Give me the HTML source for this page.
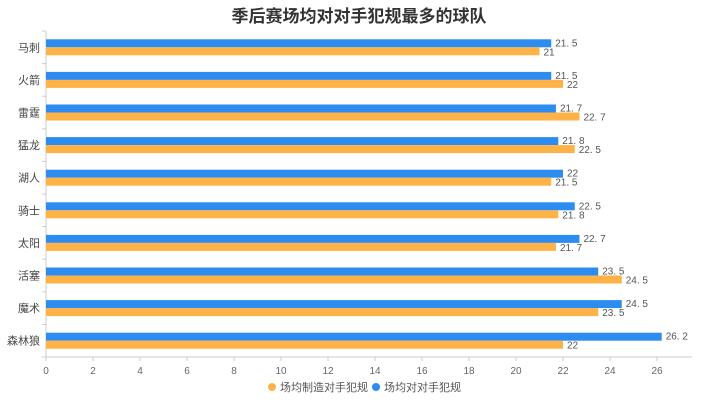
<!DOCTYPE html>
<html><head><meta charset="utf-8"><style>
body{margin:0;background:#fff;font-family:"Liberation Sans","Noto Sans CJK SC",sans-serif}
svg text{font-family:"Liberation Sans","Noto Sans CJK SC",sans-serif}
</style></head><body>
<svg id="chart" width="718" height="401">
<text x="359" y="22" text-anchor="middle" font-size="17" font-weight="bold" fill="#333">季后赛场均对对手犯规最多的球队</text>
<g id="plot"></g>
<g>
<circle cx="272" cy="387" r="4" fill="#ffb347"/>
<text x="280" y="391" font-size="11" fill="#555">场均制造对手犯规</text>
<circle cx="376" cy="387" r="4" fill="#2d8cf0"/>
<text x="384" y="391" font-size="11" fill="#555">场均对对手犯规</text>
</g>
</svg>
<script>
const categories=["马刺","火箭","雷霆","猛龙","湖人","骑士","太阳","活塞","魔术","森林狼"];
const committed=[21.5,21.5,21.7,21.8,22,22.5,22.7,23.5,24.5,26.2];
const made=[21,22,22.7,22.5,21.5,21.8,21.7,24.5,23.5,22];
const xTicks=[0,2,4,6,8,10,12,14,16,18,20,22,24,26];
const NS="http://www.w3.org/2000/svg";
const g=document.getElementById('plot');
const x0=46,ppu=23.5,plotTop=31,plotBottom=357,xEnd=692;
const band=(plotBottom-plotTop)/categories.length;
const X=v=>x0+v*ppu;
function mk(t,a){const e=document.createElementNS(NS,t);for(const k in a)e.setAttribute(k,a[k]);g.appendChild(e);return e;}
let ax=mk('line',{x1:x0,y1:plotBottom,x2:xEnd,y2:plotBottom,stroke:'#ccc'});


let ay=mk('line',{x1:x0,y1:plotTop,x2:x0,y2:plotBottom,stroke:'#ccc'});


xTicks.forEach(v=>{
 mk('line',{x1:X(v),y1:plotBottom,x2:X(v),y2:plotBottom+4,stroke:'#ccc'});
 let t=mk('text',{x:X(v),y:plotBottom+17,'text-anchor':'middle','font-size':10,fill:'#666'});
 t.textContent=v;
 
 
});
for(let i=0;i<=categories.length;i++){mk('line',{x1:x0-4,y1:plotTop+i*band,x2:x0,y2:plotTop+i*band,stroke:'#ccc'});}
categories.forEach((c,i)=>{
 const cy=plotTop+band*(i+0.5);
 let t=mk('text',{x:x0-6,y:cy+4,'text-anchor':'end','font-size':11,fill:'#444'});
 t.textContent=c;
 
 
 let b=mk('rect',{x:x0,y:cy-8,width:X(committed[i])-x0,height:8,fill:'#2d8cf0'});
 
 
 let o=mk('rect',{x:x0,y:cy,width:X(made[i])-x0,height:8,fill:'#ffb347'});
 
 
 let l1=mk('text',{x:X(committed[i])+4,y:cy-1,'font-size':10,fill:'#555'});
 l1.textContent=String(committed[i]).replace('.','. ');
 
 
 let l2=mk('text',{x:X(made[i])+4,y:cy+8,'font-size':10,fill:'#555'});
 l2.textContent=String(made[i]).replace('.','. ');
 
 
});
</script>
</body></html>
